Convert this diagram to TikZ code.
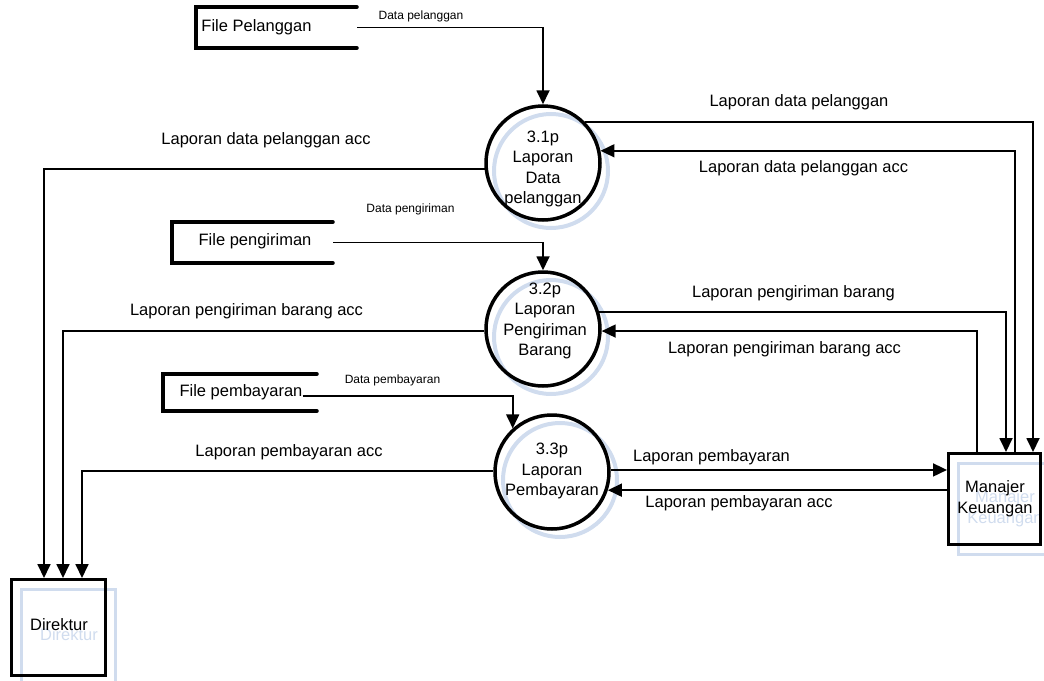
\documentclass[tikz,border=0pt]{standalone}
\usepackage{fontspec}
\setmainfont{Liberation Sans}
\usetikzlibrary{arrows.meta}
\definecolor{shade}{RGB}{208,220,238}

\begin{document}
\begin{tikzpicture}[x=1pt,y=-1pt,
  flow/.style={line width=1.8pt, -{Triangle[length=14pt,width=13pt]}},
  proc/.style={circle, draw, line width=3.5pt, minimum size=114pt, inner sep=0pt},
  procshade/.style={circle, draw=shade, line width=4pt, minimum size=114pt, inner sep=0pt},
  ent/.style={draw, line width=3pt, inner sep=0pt},
  entshade/.style={draw=shade, line width=3.5pt, inner sep=0pt},
  txt/.style={font=\fontsize{16.5}{20.5}\selectfont, align=center, inner sep=0pt},
  shadetxt/.style={txt, text=shade},
  small/.style={font=\fontsize{12}{14}\selectfont, inner sep=0pt},
  storebox/.style={inner sep=0pt, outer sep=0pt},
  storeline/.style={line width=3.5pt, line cap=round},
]
\useasboundingbox (0,0) rectangle (1044,680);

% shadows behind processes and entities
\node[procshade] (p1s) at (551,171) {};
\node[procshade] (p2s) at (551,337) {};
\node[procshade] (p3s) at (560,480) {};
\node[entshade, minimum width=92pt, minimum height=91pt] (mks) at (1004.5,509) {};
\node[shadetxt] (mkst) at (1005,508.5) {Manajer\\Keuangan};
\node[entshade, minimum width=94pt, minimum height=96pt] (dks) at (68.5,637.5) {};
\node[shadetxt] (dkst) at (69,635) {Direktur};

% processes
\node[proc] (p1) at (543,163) {};
\node[txt] (p1t) at (543,169) {3.1p\\Laporan\\Data\\pelanggan};
\node[proc] (p2) at (543,329) {};
\node[txt] (p2t) at (545,321) {3.2p\\Laporan\\Pengiriman\\Barang};
\node[proc] (p3) at (552,472) {};
\node[txt] (p3t) at (552,471) {3.3p\\Laporan\\Pembayaran};

% external entities
\node[ent, minimum width=92pt, minimum height=91pt] (mk) at (994.5,499) {};
\node[txt] (mkt) at (995,498.5) {Manajer\\Keuangan};
\node[ent, minimum width=94pt, minimum height=96pt] (dk) at (58.5,627.5) {};
\node[txt] (dkt) at (59,625) {Direktur};

% data stores
\node[storebox, minimum width=161pt, minimum height=41pt] (fp) at (276.5,27.5) {};
\node[txt] (fpt) at (256.5,27) {File Pelanggan};
\draw[storeline] (fp.north east) -- (fp.north west) -- (fp.south west) -- (fp.south east);
\node[storebox, minimum width=161pt, minimum height=41pt] (fs) at (252.5,242.5) {};
\node[txt] (fst) at (255,241) {File pengiriman};
\draw[storeline] (fs.north east) -- (fs.north west) -- (fs.south west) -- (fs.south east);
\node[storebox, minimum width=154pt, minimum height=37pt] (fb) at (240,392.5) {};
\node[txt] (fbt) at (241,392) {File pembayaran};
\draw[storeline] (fb.north east) -- (fb.north west) -- (fb.south west) -- (fb.south east);

% data flows from stores
\draw[flow] (fp.east) -| (p1.north);
\node[small] (l1) at (421,16) {Data pelanggan};
\draw[flow] (fs.east) -| (p2.north);
\node[small] (l2) at (410.5,209) {Data pengiriman};
\draw[flow] (fbt.base east) -| (p3.132);
\node[small] (l3) at (392.5,380) {Data pembayaran};

% flows between processes and Manajer Keuangan
\draw[flow] (p1.44) -| ([xshift=38.5pt]mk.north);
\node[txt] (l4) at (799,102) {Laporan data pelanggan};
\draw[flow] ([xshift=20.5pt]mk.north) |- (p1.12);
\node[txt] (l5) at (803.5,168) {Laporan data pelanggan acc};
\draw[flow] (p2.17) -| ([xshift=11.5pt]mk.north);
\node[txt] (l6) at (793.5,293) {Laporan pengiriman barang};
\draw[flow] ([xshift=-17.5pt]mk.north) |- (p2.-2);
\node[txt] (l7) at (784.5,349) {Laporan pengiriman barang acc};
\draw[flow] (p3.2) -- (p3.2 -| mk.west);
\node[txt] (l8) at (711.5,457) {Laporan pembayaran};
\draw[flow] (p3.-18 -| mk.west) -- (p3.-18);
\node[txt] (l9) at (739,503) {Laporan pembayaran acc};

% flows from processes to Direktur
\draw[flow] (p1.186) -| ([xshift=-14.5pt]dk.north);
\node[txt] (l10) at (266,140) {Laporan data pelanggan acc};
\draw[flow] (p2.182) -| ([xshift=4.5pt]dk.north);
\node[txt] (l11) at (246.5,311) {Laporan pengiriman barang acc};
\draw[flow] (p3.179) -| ([xshift=23.5pt]dk.north);
\node[txt] (l12) at (289,452) {Laporan pembayaran acc};
\end{tikzpicture}
\end{document}
